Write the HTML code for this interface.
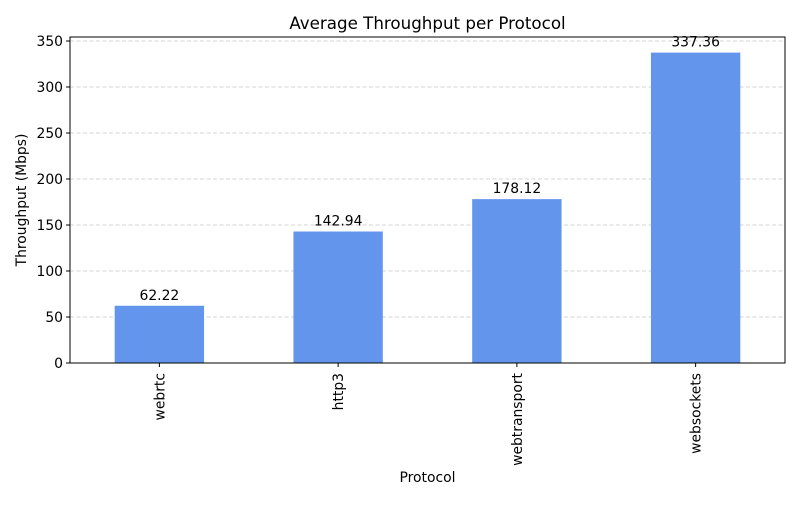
<!DOCTYPE html>
<html><head><meta charset="utf-8"><style>
body{margin:0;background:#fff;font-family:"Liberation Sans","DejaVu Sans",sans-serif;}
</style></head><body>
<svg id="chart" width="800" height="500" xmlns="http://www.w3.org/2000/svg" font-family="DejaVu Sans, Liberation Sans, sans-serif">
<rect width="800" height="500" fill="#fff"/>
<text x="427.5" y="29" text-anchor="middle" font-size="16.7">Average Throughput per Protocol</text>
<g id="grid"></g><g id="bars"></g><g id="axes"></g>
<text x="427.5" y="482" text-anchor="middle" font-size="13.9">Protocol</text>
<text transform="translate(26,200) rotate(-90)" text-anchor="middle" font-size="13.9">Throughput (Mbps)</text>
</svg>
<script>
const categories=["webrtc","http3","webtransport","websockets"];
const values=[62.22,142.94,178.12,337.36];
const yTicks=[0,50,100,150,200,250,300,350];
const L=70,R=785,T=37,B=363,yMax=354.35;
const NS="http://www.w3.org/2000/svg";
const y=v=>B-(v/yMax)*(B-T);
const step=(R-L)/categories.length;
const x=i=>L+step*(i+0.5);
function mk(tag,attrs,parent,text){const e=document.createElementNS(NS,tag);for(const k in attrs)e.setAttribute(k,attrs[k]);if(text!=null)e.textContent=text;document.getElementById(parent).appendChild(e);return e;}
yTicks.forEach(t=>{
 const g=mk('line',{x1:L,x2:R,y1:y(t),y2:y(t),stroke:'#c8c8c8','stroke-dasharray':'4,2.5','stroke-width':0.8},'grid');
 
 
 const tk=mk('line',{x1:L-4,x2:L,y1:y(t),y2:y(t),stroke:'#000'},'axes');
 
 
 const lb=mk('text',{x:L-7,y:y(t)+4.8,'text-anchor':'end','font-size':13.9},'axes',t);
 
 
});
const bw=step*0.5;
categories.forEach((c,i)=>{
 const b=mk('rect',{x:x(i)-bw/2,y:y(values[i]),width:bw,height:B-y(values[i]),fill:'#6495ed'},'bars');
 
 
 const v=mk('text',{x:x(i),y:y(values[i])-6,'text-anchor':'middle','font-size':13.9},'bars',values[i].toFixed(2));
 
 
 const tk=mk('line',{x1:x(i),x2:x(i),y1:B,y2:B+4,stroke:'#000'},'axes');
 
 
 const lb=mk('text',{transform:`translate(${x(i)+5},${B+10}) rotate(-90)`,'text-anchor':'end','font-size':13.9},'axes',c);
 
 
});
const fr=mk('rect',{x:L,y:T,width:R-L,height:B-T,fill:'none',stroke:'#000','stroke-width':1},'axes');


</script>
</body></html>
